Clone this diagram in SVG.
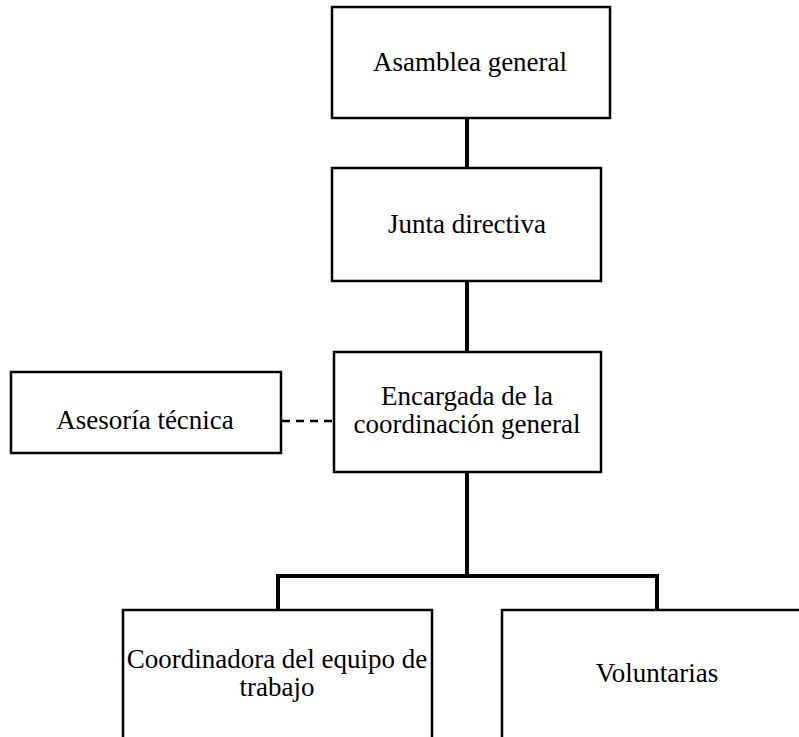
<svg xmlns="http://www.w3.org/2000/svg" width="799" height="737" viewBox="0 0 799 737">
<style>
.box{fill:#fff;stroke:#000;stroke-width:2.5}
.t{font-family:"Liberation Serif","Times New Roman",serif;font-size:27px;fill:#000;text-anchor:middle}
.c{stroke:#000;stroke-width:4;fill:none}
.d{stroke:#000;stroke-width:2.5;stroke-dasharray:8 6;fill:none}
</style>
<rect width="799" height="737" fill="#fff"/>
<g id="connectors">
<line class="c" x1="467" y1="118" x2="467" y2="168"/>
<line class="c" x1="467" y1="281" x2="467" y2="352"/>
<line class="c" x1="467" y1="472" x2="467" y2="576"/>
<polyline class="c" points="278,610 278,576 657,576 657,610"/>
<line class="d" x1="282" y1="421" x2="334" y2="421"/>
</g>
<g id="asamblea">
<rect class="box" x="332" y="7" width="278" height="111"/>
<text class="t" x="470" y="71">Asamblea general</text>
</g>
<g id="junta">
<rect class="box" x="332" y="168" width="269" height="113"/>
<text class="t" x="467" y="233">Junta directiva</text>
</g>
<g id="encargada">
<rect class="box" x="334" y="352" width="267" height="120"/>
<text class="t" x="467" y="405">Encargada de la</text>
<text class="t" x="467" y="433">coordinación general</text>
</g>
<g id="asesoria">
<rect class="box" x="11" y="372" width="270" height="81"/>
<text class="t" x="145" y="429">Asesoría técnica</text>
</g>
<g id="coordinadora">
<rect class="box" x="123" y="610" width="309" height="140"/>
<text class="t" x="277" y="668">Coordinadora del equipo de</text>
<text class="t" x="277" y="696">trabajo</text>
</g>
<g id="voluntarias">
<rect class="box" x="502" y="610" width="310" height="140"/>
<text class="t" x="657" y="682">Voluntarias</text>
</g>
</svg>
